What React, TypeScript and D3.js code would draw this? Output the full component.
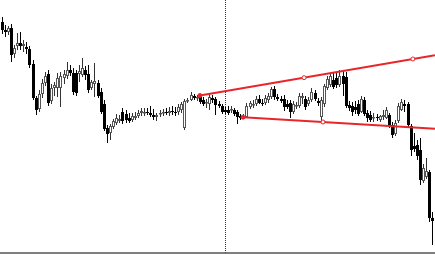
import React from "react";
import * as d3 from "d3";

const W = 435;
const H = 255;

// OHLC prices, one candle per period (index = period)
const opens = [
  1278, 1270, 1268, 1272, 1246, 1254, 1257, 1254, 1253, 1251,
  1236, 1202, 1191, 1206, 1217, 1226, 1199, 1212, 1212, 1212,
  1222, 1224, 1230, 1227, 1227, 1226, 1225, 1230, 1226, 1212,
  1216, 1217, 1208, 1196, 1172, 1167, 1173, 1177, 1179, 1188,
  1186, 1182, 1180, 1182, 1184, 1187, 1187, 1188, 1187, 1185,
  1183, 1186, 1187, 1188, 1187, 1189, 1188, 1188, 1190, 1172,
  1199, 1200, 1204, 1202, 1203, 1200, 1197, 1196, 1202, 1201,
  1196, 1194, 1190, 1190, 1190, 1190, 1188, 1184, 1183, 1183,
  1193, 1195, 1196, 1201, 1197, 1197, 1200, 1203, 1211, 1203,
  1201, 1201, 1196, 1197, 1188, 1194, 1194, 1202, 1201, 1196,
  1200, 1207, 1199, 1183, 1196, 1212, 1215, 1220, 1222, 1215,
  1224, 1223, 1195, 1194, 1193, 1196, 1188, 1200, 1187, 1185,
  1182, 1183, 1180, 1183, 1182, 1185, 1175, 1166, 1179, 1190,
  1196, 1196, 1174, 1154, 1155, 1150, 1119, 1123, 1128, 1082,
];
const highs = [
  1283, 1275, 1274, 1276, 1255, 1267, 1268, 1260, 1258, 1254,
  1240, 1204, 1210, 1221, 1228, 1230, 1216, 1218, 1227, 1228,
  1230, 1238, 1235, 1232, 1230, 1235, 1242, 1234, 1235, 1220,
  1237, 1220, 1212, 1200, 1175, 1176, 1181, 1186, 1185, 1192,
  1190, 1187, 1187, 1188, 1190, 1192, 1192, 1192, 1194, 1191,
  1187, 1190, 1191, 1192, 1193, 1194, 1193, 1196, 1198, 1201,
  1202, 1208, 1206, 1205, 1205, 1203, 1201, 1207, 1205, 1203,
  1199, 1196, 1193, 1194, 1194, 1192, 1190, 1186, 1186, 1197,
  1199, 1200, 1204, 1205, 1201, 1205, 1207, 1213, 1214, 1206,
  1204, 1205, 1200, 1200, 1199, 1198, 1207, 1207, 1204, 1203,
  1212, 1210, 1202, 1203, 1216, 1224, 1227, 1228, 1227, 1230,
  1229, 1228, 1199, 1198, 1199, 1200, 1204, 1203, 1190, 1189,
  1187, 1186, 1185, 1190, 1193, 1187, 1178, 1180, 1197, 1201,
  1200, 1198, 1176, 1167, 1160, 1162, 1136, 1142, 1130, 1088,
];
const lows = [
  1266, 1263, 1265, 1238, 1242, 1250, 1250, 1248, 1246, 1232,
  1200, 1185, 1188, 1202, 1214, 1194, 1196, 1204, 1203, 1193,
  1216, 1221, 1224, 1205, 1204, 1218, 1223, 1220, 1207, 1210,
  1203, 1202, 1186, 1169, 1157, 1160, 1171, 1175, 1177, 1176,
  1177, 1177, 1178, 1180, 1182, 1184, 1184, 1185, 1183, 1180,
  1179, 1183, 1184, 1185, 1184, 1185, 1184, 1185, 1187, 1170,
  1197, 1199, 1200, 1199, 1196, 1194, 1192, 1190, 1197, 1185,
  1192, 1186, 1186, 1185, 1187, 1184, 1176, 1180, 1181, 1182,
  1191, 1192, 1194, 1196, 1194, 1195, 1197, 1201, 1200, 1199,
  1197, 1189, 1191, 1182, 1186, 1191, 1192, 1196, 1190, 1194,
  1198, 1199, 1194, 1178, 1193, 1210, 1213, 1211, 1212, 1213,
  1204, 1192, 1189, 1184, 1186, 1184, 1187, 1184, 1178, 1178,
  1178, 1179, 1178, 1180, 1181, 1172, 1162, 1164, 1177, 1189,
  1188, 1172, 1144, 1148, 1140, 1115, 1117, 1121, 1078, 1055,
];
const closes = [
  1270, 1268, 1272, 1245, 1252, 1257, 1254, 1256, 1251, 1235,
  1202, 1190, 1206, 1217, 1224, 1197, 1212, 1215, 1222, 1224,
  1226, 1230, 1227, 1208, 1207, 1229, 1232, 1225, 1210, 1218,
  1219, 1204, 1188, 1171, 1166, 1174, 1179, 1182, 1181, 1179,
  1180, 1179, 1184, 1184, 1187, 1189, 1188, 1187, 1185, 1183,
  1185, 1187, 1188, 1187, 1189, 1188, 1187, 1193, 1196, 1199,
  1200, 1205, 1202, 1203, 1198, 1196, 1198, 1203, 1200, 1195,
  1194, 1188, 1188, 1187, 1191, 1186, 1183, 1182, 1183, 1194,
  1197, 1196, 1201, 1197, 1196, 1202, 1204, 1211, 1203, 1201,
  1199, 1193, 1193, 1188, 1196, 1195, 1204, 1204, 1193, 1200,
  1208, 1201, 1197, 1200, 1214, 1221, 1224, 1213, 1215, 1224,
  1216, 1194, 1192, 1188, 1190, 1186, 1201, 1186, 1182, 1180,
  1183, 1182, 1184, 1185, 1190, 1174, 1165, 1177, 1194, 1198,
  1194, 1175, 1150, 1151, 1144, 1120, 1132, 1129, 1082, 1079,
];

// Trend lines: anchor points (period index, price)
const upperTrendIdx = [64.0, 97.6, 132.7];
const upperTrendPrice = [1204.5, 1222.3, 1241];
const lowerTrendIdx = [77.9, 103.7];
const lowerTrendPrice = [1182.8, 1178];

// vertical period separator at this candle
const separatorIdx = 72;

const priceDomain = [1045, 1300];

export default function App() {
  const n = opens.length;
  const x = d3.scaleLinear().domain([0, n - 1]).range([1.5, 432.4]);
  const y = d3.scaleLinear().domain(priceDomain).range([H, 0]);
  const rightIdx = x.invert(W);

  const trend = (idx: number[], pr: number[]) => {
    const i0 = idx[0], p0 = pr[0];
    const i1 = idx[idx.length - 1], p1 = pr[pr.length - 1];
    const slope = (p1 - p0) / (i1 - i0);
    return { x1: x(i0), y1: y(p0), x2: x(rightIdx), y2: y(p0 + slope * (rightIdx - i0)) };
  };
  const up = trend(upperTrendIdx, upperTrendPrice);
  const lo = trend(lowerTrendIdx, lowerTrendPrice);
  const red = "#e8262a";

  const candles = d3.range(n).map((i) => {
    const cx = Math.round(x(i));
    const o = opens[i], c = closes[i];
    const bull = c >= o;
    const top = Math.round(y(Math.max(o, c)));
    const bot = Math.round(y(Math.min(o, c)));
    const h = Math.max(1, bot - top);
    return (
      <g key={i}>
        <line
          x1={cx + 0.5}
          x2={cx + 0.5}
          y1={Math.round(y(highs[i]))}
          y2={Math.round(y(lows[i]))}
          stroke={bull ? "#333" : "#000"}
          strokeWidth={1}
        />
        {bull ? (
          <rect
            x={cx - 0.5}
            y={top + 0.5}
            width={2}
            height={Math.max(0.5, h - 1)}
            fill="#fff"
            stroke="#555"
            strokeWidth={1}
          />
        ) : (
          <rect x={cx - 1} y={top} width={3} height={h} fill="#000" shapeRendering="crispEdges" />
        )}
      </g>
    );
  });

  const sepX = Math.round(x(separatorIdx)) + 0.5;

  return (
    <svg
      width={W}
      height={H}
      style={{ position: "absolute", left: 0, top: 0, background: "#fff" }}
    >
      <rect x={0} y={0} width={W} height={H} fill="#fff" />
      <line x1={sepX} x2={sepX} y1={0} y2={253} stroke="#333" strokeWidth={1} strokeDasharray="1 1" shapeRendering="crispEdges" />
      {candles}
      <line {...up} stroke={red} strokeWidth={2} />
      <line {...lo} stroke={red} strokeWidth={2} />
      {upperTrendIdx.map((i, k) => (
        <circle key={"u" + k} cx={x(i)} cy={y(upperTrendPrice[k])} r={k === 0 ? 2 : 2} fill={k === 0 ? red : "#fff"} stroke={red} strokeWidth={1} />
      ))}
      {lowerTrendIdx.map((i, k) => (
        <circle key={"l" + k} cx={x(i)} cy={y(lowerTrendPrice[k])} r={k === 0 ? 2 : 2} fill={k === 0 ? red : "#fff"} stroke={red} strokeWidth={1} />
      ))}
      <line x1={0} x2={W} y1={253} y2={253} stroke="#555" strokeWidth={1.5} />
    </svg>
  );
}
